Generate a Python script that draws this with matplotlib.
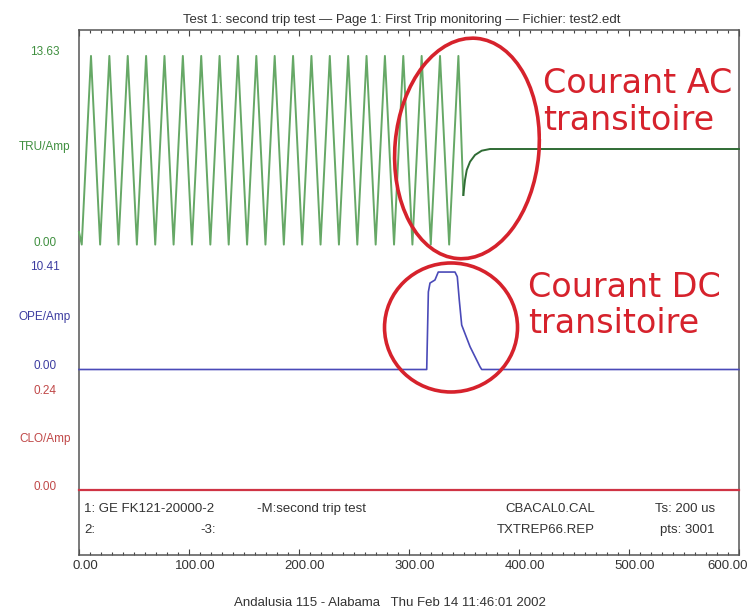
import matplotlib
matplotlib.use("Agg")
import matplotlib.pyplot as plt
from matplotlib import transforms
from matplotlib.patches import Ellipse

W, H, DPI = 749, 615, 100
T_MAX = 600.0  # ms, Ts = 200 us, 3001 pts

# TRU/Amp : AC current, extrema of every 60 Hz cycle until the trip
tru_start_t, tru_start_a = 0.0, 1.0
tru_trough_t = [2.5, 19.2, 35.9, 52.6, 69.3, 86.0, 102.7, 119.4, 136.1, 152.8, 169.5,
                186.2, 202.9, 219.6, 236.3, 253.0, 269.7, 286.4, 303.1, 319.8, 336.5]
tru_trough_a = [0.1, 0.1, 0.1, 0.1, 0.1, 0.1, 0.1, 0.1, 0.1, 0.1, 0.1,
                0.1, 0.1, 0.1, 0.1, 0.1, 0.1, 0.1, 0.1, 0.1, 0.1]
tru_peak_t = [10.9, 27.6, 44.3, 61.0, 77.7, 94.4, 111.1, 127.8, 144.5, 161.2, 177.9,
              194.6, 211.3, 228.0, 244.7, 261.4, 278.1, 294.8, 311.5, 328.2, 344.9]
tru_peak_a = [13.6, 13.6, 13.6, 13.6, 13.6, 13.6, 13.6, 13.6, 13.6, 13.6, 13.6,
              13.6, 13.6, 13.6, 13.6, 13.6, 13.6, 13.6, 13.6, 13.6, 13.6]
# after the trip: dip then return to the zero-current level
tru_decay_t = [349.4, 350.9, 352.5, 355.5, 360.0, 366.1, 373.6, 600.0]
tru_decay_a = [3.65, 4.72, 5.44, 6.03, 6.51, 6.82, 6.94, 6.94]

# OPE/Amp : DC transient on the opening coil
ope_t = [0.0, 316.1, 317.6, 319.1, 323.6, 326.6, 341.8, 343.9, 345.7, 347.9, 355.5, 364.5, 366.1, 600.0]
ope_a = [0.0, 0.0, 8.2, 9.14, 9.46, 10.30, 10.30, 9.81, 7.35, 4.70, 2.41, 0.30, 0.0, 0.0]

# CLO/Amp : closing coil, nothing recorded
clo_t = [0.0, 600.0]
clo_a = [0.0, 0.0]

x_ticks = [0, 100, 200, 300, 400, 500, 600]

GREEN_TXT, GREEN_LINE, GREEN_DARK = "#3f8f3f", "#66a866", "#2f6b34"
BLUE_TXT, BLUE_LINE = "#3c3ca0", "#4a4ab8"
RED_TXT, RED_LINE = "#c04848", "#cf3444"
MARK = "#d6222c"
SMALL = dict(family="Liberation Sans", fontsize=9.5, color="#333333")


def px_rect(top, bottom, left=79, right=739):
    return [left / W, 1 - bottom / H, (right - left) / W, (bottom - top) / H]


def channel_axes(fig, top, bottom, ymax):
    ax = fig.add_axes(px_rect(top, bottom))
    ax.set_xlim(0, T_MAX)
    ax.set_ylim(0, ymax)
    ax.axis("off")
    ax.patch.set_alpha(0)
    return ax


def channel_labels(fig, ax, name, ymax, color):
    up = transforms.ScaledTranslation(0, 3.5 / DPI, fig.dpi_scale_trans)
    tr = transforms.blended_transform_factory(fig.transFigure, ax.transData) + up
    kw = dict(transform=tr, ha="center", va="center", color=color,
              family="Liberation Sans", fontsize=8.5)
    ax.text(45 / W, ymax, f"{ymax:.2f}", **kw)
    ax.text(45 / W, ymax / 2, name, **kw)
    ax.text(45 / W, 0, "0.00", **kw)


def ring(fig, ax, t, a, w_px, h_px, angle=0):
    tr = fig.dpi_scale_trans + transforms.ScaledTranslation(t, a, ax.transData)
    ax.add_artist(Ellipse((0, 0), w_px / DPI, h_px / DPI, angle=angle, transform=tr,
                          fill=False, ec=MARK, lw=2.6, clip_on=False, zorder=5))


def main():
    fig = plt.figure(figsize=(W / DPI, H / DPI), dpi=DPI)

    # outer frame with the time axis
    frame = fig.add_axes(px_rect(30, 555))
    frame.set_xlim(0, T_MAX)
    frame.set_ylim(0, 1)
    frame.set_yticks([])
    frame.set_xticks(x_ticks)
    frame.set_xticks(range(0, 601, 10), minor=True)
    frame.set_xticklabels([])
    frame.tick_params(axis="x", which="both", direction="in", top=True, bottom=True,
                      color="#444444", width=0.8)
    frame.tick_params(axis="x", which="major", length=4.5)
    frame.tick_params(axis="x", which="minor", length=2)
    for s in frame.spines.values():
        s.set_color("#555555")
        s.set_linewidth(1.1)
    shift = transforms.ScaledTranslation(6 / DPI, -5 / DPI, fig.dpi_scale_trans)
    lab_tr = transforms.blended_transform_factory(frame.transData, frame.transAxes) + shift
    for t in x_ticks[:-1]:
        frame.text(t, 0, f"{t:.2f}", transform=lab_tr, ha="center", va="top",
                   clip_on=False, **SMALL)
    # last label pushed against the right edge of the figure
    fig.text(748 / W, 1 - 560 / H, f"{x_ticks[-1]:.2f}", ha="right", va="top", **SMALL)

    # TRU channel
    ax_tru = channel_axes(fig, 55.5, 246, 13.63)
    osc_t, osc_a = [tru_start_t], [tru_start_a]
    for tt, ta, pt, pa in zip(tru_trough_t, tru_trough_a, tru_peak_t, tru_peak_a):
        osc_t += [tt, pt]
        osc_a += [ta, pa]
    osc_t.append(tru_decay_t[0])
    osc_a.append(tru_decay_a[0])
    ax_tru.plot(osc_t, osc_a, color=GREEN_LINE, lw=1.4, clip_on=False,
                solid_joinstyle="round")
    ax_tru.plot(tru_decay_t, tru_decay_a, color=GREEN_DARK, lw=1.4, clip_on=False)
    channel_labels(fig, ax_tru, "TRU/Amp", 13.63, GREEN_TXT)

    # OPE channel
    ax_ope = channel_axes(fig, 271, 369.5, 10.41)
    ax_ope.plot(ope_t, ope_a, color=BLUE_LINE, lw=1.2, clip_on=False)
    channel_labels(fig, ax_ope, "OPE/Amp", 10.41, BLUE_TXT)

    # CLO channel
    ax_clo = channel_axes(fig, 395, 490, 0.24)
    ax_clo.plot(clo_t, clo_a, color=RED_LINE, lw=1.6, clip_on=False)
    channel_labels(fig, ax_clo, "CLO/Amp", 0.24, RED_TXT)

    # header, info block and footer
    fig.text(402 / W, 1 - 20 / H, "Test 1: second trip test \u2014 Page 1: First Trip monitoring"
             " \u2014 Fichier: test2.edt", ha="center", va="center", **SMALL)
    row1, row2 = 1 - 509 / H, 1 - 530 / H
    fig.text(84 / W, row1, "1: GE FK121-20000-2", va="center", **SMALL)
    fig.text(257 / W, row1, "-M:second trip test", va="center", **SMALL)
    fig.text(595 / W, row1, "CBACAL0.CAL", ha="right", va="center", **SMALL)
    fig.text(715 / W, row1, "Ts: 200 us", ha="right", va="center", **SMALL)
    fig.text(84 / W, row2, "2:", va="center", **SMALL)
    fig.text(200 / W, row2, "-3:", va="center", **SMALL)
    fig.text(595 / W, row2, "TXTREP66.REP", ha="right", va="center", **SMALL)
    fig.text(715 / W, row2, "pts: 3001", ha="right", va="center", **SMALL)
    fig.text(390 / W, 1 - 603 / H, "Andalusia 115 - Alabama   Thu Feb 14 11:46:01 2002",
             ha="center", va="center", **SMALL)

    # highlighted transients
    ring(fig, ax_tru, 352.7, 6.98, 144, 221, angle=-5)
    ring(fig, ax_ope, 338.2, 4.44, 133, 129)
    big = dict(family="DejaVu Sans", fontsize=24, color=MARK, va="baseline", zorder=10)
    box = dict(facecolor="white", edgecolor="none", pad=1.5)
    fig.text(543 / W, 1 - 93.3 / H, "Courant AC", bbox=box, **big)
    fig.text(543 / W, 1 - 130 / H, "transitoire", bbox=box, **big)
    fig.text(528 / W, 1 - 296.7 / H, "Courant DC", **big)
    fig.text(528 / W, 1 - 333.3 / H, "transitoire", **big)

    fig.savefig("out.png", dpi=DPI)
    plt.close(fig)


if __name__ == "__main__":
    main()
